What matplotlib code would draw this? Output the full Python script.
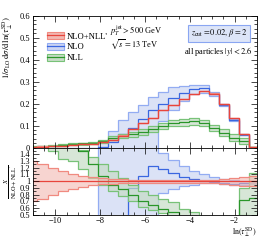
import matplotlib
matplotlib.use("Agg")
import matplotlib.pyplot as plt
import numpy as np
from matplotlib.patches import Patch
from matplotlib.lines import Line2D
from matplotlib.ticker import MultipleLocator, FuncFormatter

plt.rcParams['font.family'] = ['Liberation Serif', 'DejaVu Serif']
plt.rcParams['mathtext.fontset'] = 'stix'
plt.rcParams['font.size'] = 6

# bin edges in ln(tau)
edges = -1.35 + 0.45 * np.arange(-22, 2)

# top panel: central values and bands
red = [0.003, 0.005, 0.007, 0.009, 0.012, 0.015, 0.018, 0.024, 0.035, 0.055, 0.085, 0.11,
       0.135, 0.17, 0.193, 0.222, 0.244, 0.257, 0.245, 0.198, 0.135, 0.063, 0.004]
red_w = [0.30, 0.26, 0.20, 0.15, 0.11, 0.08, 0.06, 0.045, 0.035, 0.03, 0.025, 0.025,
         0.025, 0.025, 0.025, 0.025, 0.022, 0.02, 0.025, 0.035, 0.05, 0.065, 0.07]

blue = [0.0, 0.0, 0.0, 0.0, 0.0, 0.0, 0.0, 0.005, 0.025, 0.06, 0.089, 0.13,
        0.17, 0.2, 0.225, 0.25, 0.268, 0.27, 0.245, 0.194, 0.126, 0.059, 0.0]
blue_hi = [np.nan] * 7 + [0.03, 0.077, 0.126, 0.163, 0.193, 0.23, 0.252, 0.274, 0.281,
                          0.283, 0.284, 0.252, 0.2, 0.13, 0.062, 0.003]
blue_lo = [np.nan] * 7 + [-0.05, -0.05, -0.05, -0.05, -0.05, -0.05, 0.12, 0.17, 0.21,
                          0.245, 0.25, 0.235, 0.19, 0.122, 0.057, 0.0]

green = [0.004, 0.007, 0.009, 0.012, 0.015, 0.019, 0.023, 0.03, 0.045, 0.055, 0.062, 0.072,
         0.084, 0.1, 0.111, 0.116, 0.119, 0.111, 0.089, 0.067, 0.044, 0.03, 0.002]
green_hi = [0.006, 0.009, 0.012, 0.015, 0.019, 0.023, 0.027, 0.036, 0.052, 0.064, 0.072, 0.083,
            0.096, 0.112, 0.124, 0.13, 0.133, 0.126, 0.105, 0.085, 0.06, 0.044, 0.005]
green_lo = [0.002, 0.004, 0.006, 0.008, 0.01, 0.013, 0.016, 0.022, 0.035, 0.044, 0.05, 0.058,
            0.07, 0.085, 0.097, 0.1, 0.104, 0.1, 0.074, 0.052, 0.03, 0.015, 0.0]

# ratio panel
r_blue = [0.0] * 10 + [0.9, 1.08, 1.22, 1.18, 1.12, 1.06, 1.03, 1.0, 0.99, 0.97, 0.96, 0.97, 0.98]
r_blue_hi = [np.nan] * 7 + [3.0] * 6 + [1.42, 1.31, 1.23, 1.155, 1.10, 1.06, 1.03, 1.02, 1.01, 1.0]
r_blue_lo = [np.nan] * 7 + [0.0] * 6 + [0.82, 0.88, 0.93, 0.95, 0.97, 0.97, 0.96, 0.95, 0.95, 0.96]
r_green = [2.0] * 5 + [1.45, 1.25, 1.08, 0.95, 0.88, 0.8, 0.71, 0.64, 0.59, 0.54, 0.45,
                       0.4, 0.35, 0.3, 0.3, 0.3, 0.72, 0.75]
r_green_hi = [2.0] * 5 + [1.47, 1.36, 1.26, 1.15, 1.05, 0.95, 0.85, 0.8, 0.74, 0.69, 0.59,
                          0.54, 0.45, 0.4, 0.4, 0.45, 0.9, 1.12]
r_green_lo = [1.8, 1.7, 1.45, 1.33, 1.3, 1.18, 1.05, 0.95, 0.85, 0.78, 0.7, 0.62, 0.57,
              0.52, 0.47, 0.4, 0.35, 0.3, 0.25, 0.25, 0.25, 0.5, 0.45]

red = np.array(red)
red_w = np.array(red_w)

c_red, f_red, e_red = '#e8453c', '#f2b8b2', '#f08a80'
c_blue, f_blue, e_blue = '#3a66e0', '#cdd6f3', '#93acf2'
c_green, f_green, e_green = '#2a962a', '#c6dcc6', '#78c278'


def band(ax, c, lo, hi, col, fcol, ecol, alpha=0.7):
    ax.stairs(hi, edges, baseline=lo, fill=True, color=fcol, alpha=alpha, lw=0)
    ax.stairs(hi, edges, color=ecol, lw=0.9)
    ax.stairs(lo, edges, color=ecol, lw=0.9)
    ax.stairs(c, edges, color=col, lw=0.9)


fig = plt.figure(figsize=(2.66, 2.40), dpi=100)
ax1 = fig.add_axes([0.124, 0.385, 0.842, 0.55])
ax2 = fig.add_axes([0.124, 0.105, 0.842, 0.28])

band(ax1, blue, blue_lo, blue_hi, c_blue, f_blue, e_blue)
band(ax1, green, green_lo, green_hi, c_green, f_green, e_green)
band(ax1, red, red * (1 - red_w * 0.15), red * (1 + red_w * 0.15), c_red, f_red, e_red)

band(ax2, r_blue, r_blue_lo, r_blue_hi, c_blue, f_blue, e_blue)
band(ax2, r_green, r_green_lo, r_green_hi, c_green, f_green, e_green)
band(ax2, np.ones(len(red)), 1 - red_w, 1 + red_w, c_red, f_red, e_red, alpha=0.6)

fmt = FuncFormatter(lambda v, p: '%g' % round(v, 2))
for ax in (ax1, ax2):
    ax.set_xlim(-11, -1)
    ax.xaxis.set_major_locator(MultipleLocator(2))
    ax.xaxis.set_minor_locator(MultipleLocator(0.5))
    ax.tick_params(which='both', direction='in', top=True, right=True, labelsize=6, pad=2)
    ax.tick_params(which='major', length=4, width=0.5)
    ax.tick_params(which='minor', length=2, width=0.5)
    ax.yaxis.set_major_formatter(fmt)
    for s in ax.spines.values():
        s.set_linewidth(0.6)

ax1.set_ylim(0, 0.6)
ax1.yaxis.set_major_locator(MultipleLocator(0.1))
ax1.yaxis.set_minor_locator(MultipleLocator(0.02))
ax1.tick_params(labelbottom=False)
ax1.set_ylabel(r"$1/\sigma_{\rm LO}\,\mathrm{d}\sigma/\mathrm{d}\,\ln(\tau_\perp^{\rm SD})$",
               loc='top', fontsize=6.2)
ax1.yaxis.set_label_coords(-0.08, 1.0)

ax2.set_ylim(0.5, 1.5)
ax2.set_yticks(np.arange(0.5, 1.45, 0.1))
ax2.yaxis.set_minor_locator(MultipleLocator(0.05))
ax2.tick_params(axis='x', pad=1.5)
ax2.set_ylabel(r"$\frac{X}{\rm NLO+NLL'}$", fontsize=6.5)
ax2.yaxis.set_label_coords(-0.065, 0.5)
ax2.set_xlabel(r"$\ln(\tau_\perp^{\rm SD})$", loc='right', fontsize=5.8)
ax2.xaxis.set_label_coords(1.0, -0.16)

handles = [(Patch(facecolor=f_red, edgecolor=e_red, lw=0.8), Line2D([], [], color=c_red, lw=0.9)),
           (Patch(facecolor=f_blue, edgecolor=e_blue, lw=0.8), Line2D([], [], color=c_blue, lw=0.9)),
           (Patch(facecolor=f_green, edgecolor=e_green, lw=0.8), Line2D([], [], color=c_green, lw=0.9))]
ax1.legend(handles, ["NLO+NLL'", "NLO", "NLL"], loc='upper left', bbox_to_anchor=(0.045, 0.9),
           frameon=False, fontsize=6.2, handlelength=2.0, handleheight=0.8,
           labelspacing=0.3, handletextpad=0.4, borderaxespad=0)

ax1.text(0.345, 0.89, r"$p_T^{\rm jet} > 500$ GeV", transform=ax1.transAxes, fontsize=6, va='center')
ax1.text(0.345, 0.78, r"$\sqrt{s} = 13$ TeV", transform=ax1.transAxes, fontsize=6, va='center')
ax1.text(0.83, 0.865, r"$z_{\rm cut} = 0.02,\, \beta = 2$", transform=ax1.transAxes,
         fontsize=6, ha='center', va='center',
         bbox=dict(boxstyle='square,pad=0.35', facecolor='#dde5f8', edgecolor='#8aa6f2', lw=0.8))
ax1.text(0.98, 0.725, r"all particles $|y| < 2.6$", transform=ax1.transAxes,
         fontsize=6, ha='right', va='center')

fig.savefig("out.png", dpi=100)
